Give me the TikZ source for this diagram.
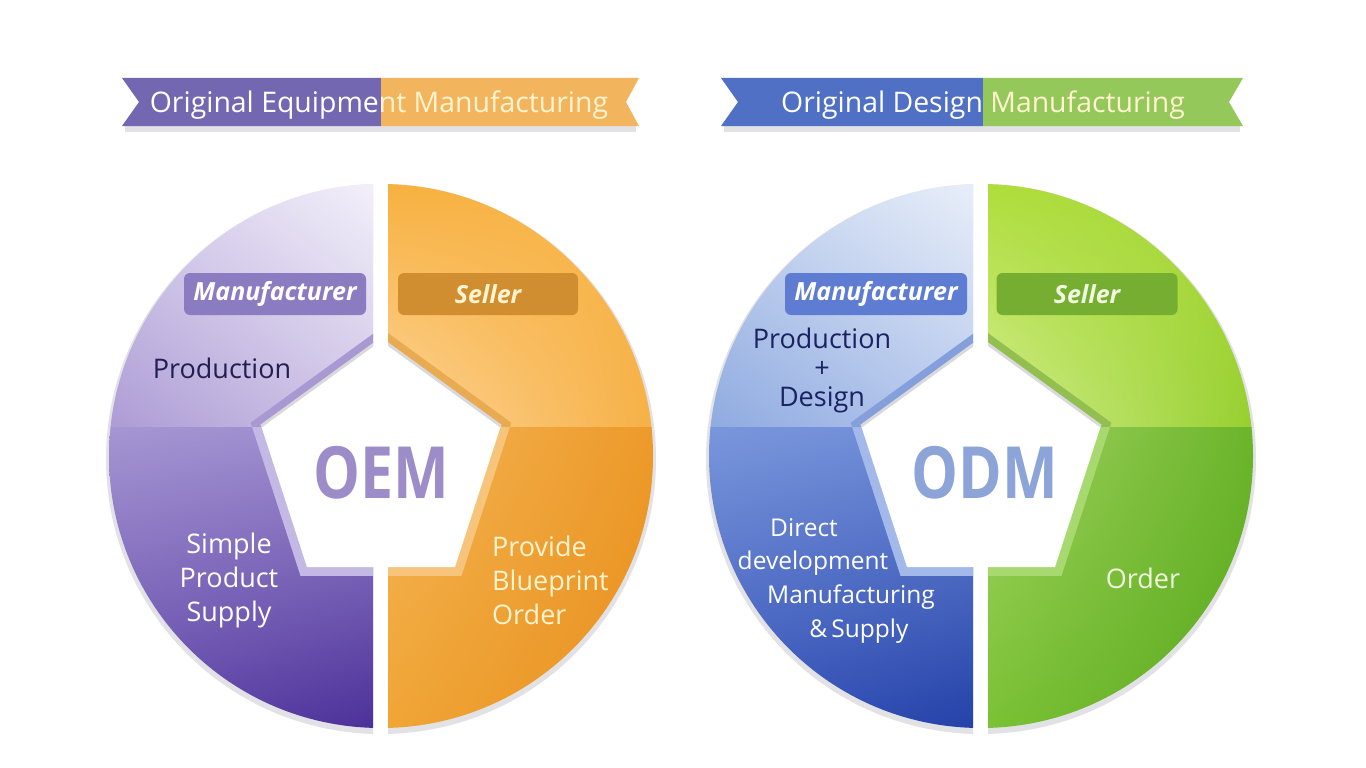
\documentclass[tikz,border=0pt]{standalone}
\usepackage{fontspec}
\usepackage{graphicx}
\usetikzlibrary{shadings}
\setmainfont{Open Sans}
\definecolor{oemULa}{HTML}{D6CCEB}\definecolor{oemULb}{HTML}{F3F0FA}\definecolor{oemULc}{HTML}{AC9BD5}\definecolor{oemULd}{HTML}{CFC4E6}\definecolor{oemULband}{HTML}{A999D2}
\definecolor{oemLLa}{HTML}{A696D3}\definecolor{oemLLb}{HTML}{9C8BCE}\definecolor{oemLLc}{HTML}{6248AA}\definecolor{oemLLd}{HTML}{4B2F98}\definecolor{oemLLband}{HTML}{C4B8E4}
\definecolor{oemURa}{HTML}{F7B03E}\definecolor{oemURb}{HTML}{F8B446}\definecolor{oemURc}{HTML}{FDD59A}\definecolor{oemURd}{HTML}{F6B045}\definecolor{oemURband}{HTML}{E9AB52}
\definecolor{oemLRa}{HTML}{F4B455}\definecolor{oemLRb}{HTML}{ED9A2A}\definecolor{oemLRc}{HTML}{F0A535}\definecolor{oemLRd}{HTML}{E78F1E}\definecolor{oemLRband}{HTML}{F6C47A}
\definecolor{odmULa}{HTML}{C4D3EF}\definecolor{odmULb}{HTML}{E9EFF9}\definecolor{odmULc}{HTML}{8EAAE0}\definecolor{odmULd}{HTML}{B6C8EC}\definecolor{odmULband}{HTML}{859FDB}
\definecolor{odmLLa}{HTML}{7A97DC}\definecolor{odmLLb}{HTML}{6D8AD6}\definecolor{odmLLc}{HTML}{3854BA}\definecolor{odmLLd}{HTML}{2341A8}\definecolor{odmLLband}{HTML}{A3B9E9}
\definecolor{odmURa}{HTML}{AEDD3A}\definecolor{odmURb}{HTML}{A6D736}\definecolor{odmURc}{HTML}{D2ED8E}\definecolor{odmURd}{HTML}{96CF2E}\definecolor{odmURband}{HTML}{92BF50}
\definecolor{odmLRa}{HTML}{A2D262}\definecolor{odmLRb}{HTML}{6BB52A}\definecolor{odmLRc}{HTML}{7AC134}\definecolor{odmLRd}{HTML}{58A81E}\definecolor{odmLRband}{HTML}{A8D870}
\definecolor{rimgray}{HTML}{E2E2E6}
\definecolor{shadowgray}{HTML}{D8D8DD}
\definecolor{bnPurple}{HTML}{7367B2}
\definecolor{bnOrange}{HTML}{F2B55E}
\definecolor{bnBlue}{HTML}{5070C6}
\definecolor{bnGreen}{HTML}{94C85A}
\definecolor{cream}{HTML}{FFF4CF}
\definecolor{navy}{HTML}{221E52}
\definecolor{navyb}{HTML}{1A2262}
\definecolor{boxPurple}{HTML}{8B7BC1}
\definecolor{boxOrange}{HTML}{D18E30}
\definecolor{boxBlue}{HTML}{5E7CD2}
\definecolor{boxGreen}{HTML}{76AE32}
\definecolor{oemText}{HTML}{9C8CC8}
\definecolor{odmText}{HTML}{8CA4D8}
\definecolor{lightgreen}{HTML}{F0F8E0}

\newcommand{\pentsmall}{(0,339) -- (-119.8,426) -- (-74,567) -- (74,567) -- (119.8,426) -- cycle}
\newcommand{\pentbig}{(0,328) -- (-130.3,422.7) -- (-80.5,575.8) -- (80.5,575.8) -- (130.3,422.7) -- cycle}
\newcommand{\quadrant}[3]{% #1 prefix+quadrant, #2 rect corner1, #3 rect corner2
  \begin{scope}
    \clip (0,456) circle[radius=272];
    \clip #2 rectangle #3;
    \shade[upper left=#1a, upper right=#1b, lower left=#1c, lower right=#1d] #2 rectangle #3;
    \fill[#1band] \pentbig;
  \end{scope}}
\newcommand{\wheel}[2]{% #1 centre x, #2 prefix
  \begin{scope}[shift={(#1,0)}]
    \begin{scope}
      \clip (-300,150) rectangle (-8,770) (7,150) rectangle (300,770);
      \fill[rimgray] (0,459) circle[radius=275];
    \end{scope}
    \quadrant{#2UL}{(-275,180)}{(-8,427)}
    \quadrant{#2LL}{(-275,427)}{(-8,732)}
    \quadrant{#2UR}{(7,180)}{(275,427)}
    \quadrant{#2LR}{(7,427)}{(275,732)}
    \fill[white] \pentsmall;
    \begin{scope}
      \clip (-300,150) rectangle (-8,770) (7,150) rectangle (300,770);
      \draw[shadowgray, line width=3, line join=round] (-119.8,426) -- (0,339) -- (119.8,426);
    \end{scope}
  \end{scope}}

\tikzset{
  bannertxt/.style={font=\fontsize{28.4}{34}\selectfont, inner sep=0, anchor=base},
  txt/.style={font=\fontsize{27}{34}\selectfont, align=center, inner sep=0},
  smalltxt/.style={font=\fontsize{24.5}{30}\selectfont, align=center, inner sep=0},
  lbl/.style={rounded corners=6, minimum width=182, minimum height=42, inner sep=0,
              font=\fontsize{25}{30}\selectfont\bfseries\itshape},
  big/.style={font=\fontsize{72}{80}\selectfont\bfseries, inner sep=0}
}

\begin{document}
\begin{tikzpicture}[x=1pt,y=-1pt]
\useasboundingbox (0,0) rectangle (1366,768);
\fill[white] (0,0) rectangle (1366,768);

% ---------- banners ----------
\fill[rimgray] (125,126) rectangle (636,132);
\fill[bnPurple] (122,78) -- (381,78) -- (381,126) -- (122,126) -- (139,102) -- cycle;
\fill[bnOrange] (381,78) -- (639,78) -- (626,102) -- (639,126) -- (381,126) -- cycle;
\begin{scope}
  \clip (120,70) rectangle (381,130);
  \node[bannertxt, text=white] (oemtitle) at (379,112) {Original Equipment Manufacturing};
\end{scope}
\begin{scope}
  \clip (381,70) rectangle (642,130);
  \node[bannertxt, text=cream] (oemtitleb) at (379,112) {Original Equipment Manufacturing};
\end{scope}

\fill[rimgray] (724,126) rectangle (1240,132);
\fill[bnBlue] (721,78) -- (983,78) -- (983,126) -- (721,126) -- (738,102) -- cycle;
\fill[bnGreen] (983,78) -- (1243,78) -- (1229,102) -- (1243,126) -- (983,126) -- cycle;
\begin{scope}
  \clip (718,70) rectangle (983,130);
  \node[bannertxt, text=white] (odmtitle) at (983,112) {Original Design Manufacturing};
\end{scope}
\begin{scope}
  \clip (983,70) rectangle (1246,130);
  \node[bannertxt, text=cream] (odmtitleb) at (983,112) {Original Design Manufacturing};
\end{scope}

% ---------- wheels ----------
\wheel{381}{oem}
\wheel{981}{odm}

% ---------- OEM texts ----------
\node[lbl, fill=boxPurple, text=white] (oemman) at (275,294) {Manufacturer};
\node[lbl, fill=boxOrange, text=cream, minimum width=180] (oemsell) at (488,294) {Seller};
\node[txt, text=navy] (oemprod) at (222,368) {Production};
\node[txt, text=white] (oemsupply) at (229,580) {Simple\\Product\\Supply};
\node[txt, text=cream, align=left, anchor=west] (oemorder) at (492,580) {Provide\\Blueprint\\Order};
\node[big, text=oemText] (oem) at (381,473) {\scalebox{0.82}[1]{OEM}};

% ---------- ODM texts ----------
\node[lbl, fill=boxBlue, text=white] (odmman) at (876,294) {Manufacturer};
\node[lbl, fill=boxGreen, text=lightgreen, minimum width=181] (odmsell) at (1087,294) {Seller};
\node[txt, text=navyb, font=\fontsize{27}{29}\selectfont] (odmprod) at (822,370) {Production\\+\\Design};
\node[smalltxt, text=white] (odm1) at (804,528) {Direct};
\node[smalltxt, text=white] (odm2) at (813,563) {development};
\node[smalltxt, text=white] (odm3) at (851,597) {Manufacturing};
\node[smalltxt, text=white] (odm4) at (859,631) {\&\,Supply};
\node[txt, text=lightgreen] (odmorder) at (1143,578) {Order};
\node[big, text=odmText] (odm) at (985,473) {\scalebox{0.82}[1]{ODM}};
\end{tikzpicture}
\end{document}
